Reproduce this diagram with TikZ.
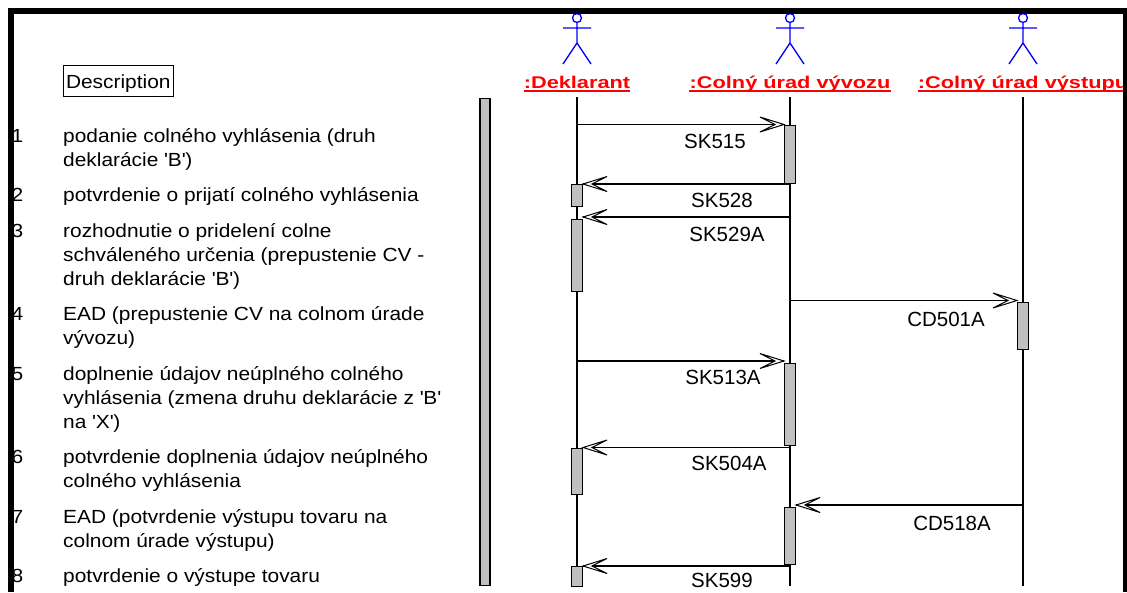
\documentclass[tikz,border=0pt]{standalone}
\usepackage{fontspec}
\setmainfont{Liberation Sans}[FakeStretch=1.1]
\newfontfamily\msgfont{Liberation Sans}
\newfontfamily\lblfont{Liberation Sans}[FakeStretch=1.28]
\definecolor{actgray}{RGB}{192,192,192}
\definecolor{actblue}{RGB}{0,0,255}
\definecolor{lblred}{RGB}{255,0,0}
\newcommand\qq{\textquotesingle}
% open chevron arrow head: #1 tip coordinate, #2 direction (1 = pointing right, -1 = pointing left)
\newcommand\msgtip[2]{%
  \draw[tipline] ([shift={(-24*#2,-7.5)}]#1) -- (#1) -- ([shift={(-24*#2,7.5)}]#1)
     -- ([shift={(-9*#2,0)}]#1) -- cycle;}
\begin{document}
\begin{tikzpicture}[x=1pt,y=-1pt,
  actor/.style={actblue, line width=1.3pt},
  lifeline/.style={line width=1.1pt},
  actbox/.style={draw, line width=1.1pt, fill=actgray, minimum width=11pt, inner sep=0pt, anchor=north},
  msg/.style={line width=1.1pt},
  tipline/.style={line width=1pt, line join=miter, fill=white},
  msglbl/.style={font=\msgfont\fontsize{20.5}{24}\selectfont, inner sep=0pt},
  desc/.style={font=\fontsize{19}{24}\selectfont, inner sep=0pt, anchor=base west},
  lbl/.style={font=\lblfont\bfseries\fontsize{17}{20}\selectfont, text=lblred, inner sep=0pt, anchor=base},
  uline/.style={lblred, line width=1.5pt},
]
\useasboundingbox (0,0) rectangle (1127,592);
\fill[white] (0,0) rectangle (1127,592);

% description box
\node[draw, line width=1pt, font=\fontsize{19}{24}\selectfont, text height=17pt, text depth=2pt,
      inner xsep=2.5pt, inner ysep=6pt, anchor=base west] (dsc) at (63,88) {Description};

% numbered description
\node[desc] (n1) at (11.5,142) {1};
\node[desc] (t1) at (63,142) {\vtop{\baselineskip=24pt\lineskiplimit=-30pt
  \hbox{podanie colného vyhlásenia (druh}\hbox{deklarácie \qq B\qq)}}};
\node[desc] (n2) at (11.5,201.5) {2};
\node[desc] (t2) at (63,201.5) {potvrdenie o prijatí colného vyhlásenia};
\node[desc] (n3) at (11.5,237) {3};
\node[desc] (t3) at (63,237) {\vtop{\baselineskip=24pt\lineskiplimit=-30pt
  \hbox{rozhodnutie o pridelení colne}\hbox{schváleného určenia (prepustenie CV -}\hbox{druh deklarácie \qq B\qq)}}};
\node[desc] (n4) at (11.5,320.5) {4};
\node[desc] (t4) at (63,320.5) {\vtop{\baselineskip=24pt\lineskiplimit=-30pt
  \hbox{EAD (prepustenie CV na colnom úrade}\hbox{vývozu)}}};
\node[desc] (n5) at (11.5,380) {5};
\node[desc] (t5) at (63,380) {\vtop{\baselineskip=24pt\lineskiplimit=-30pt
  \hbox{doplnenie údajov neúplného colného}\hbox{vyhlásenia (zmena druhu deklarácie z \qq B\qq}\hbox{na \qq X\qq)}}};
\node[desc] (n6) at (11.5,463.5) {6};
\node[desc] (t6) at (63,463.5) {\vtop{\baselineskip=24pt\lineskiplimit=-30pt
  \hbox{potvrdenie doplnenia údajov neúplného}\hbox{colného vyhlásenia}}};
\node[desc] (n7) at (11.5,523) {7};
\node[desc] (t7) at (63,523) {\vtop{\baselineskip=24pt\lineskiplimit=-30pt
  \hbox{EAD (potvrdenie výstupu tovaru na}\hbox{colnom úrade výstupu)}}};
\node[desc] (n8) at (11.5,582.5) {8};
\node[desc] (t8) at (63,582.5) {potvrdenie o výstupe tovaru};

% gray bar
\node[draw, line width=1.1pt, fill=actgray, minimum width=10pt, minimum height=487pt, inner sep=0pt, anchor=north] (gbar) at (485,97.5) {};

% actors
\foreach \x in {577,790,1023}{
  \draw[actor] (\x,18) circle[radius=4.5];
  \draw[actor] (\x,22.5) -- (\x,43) (\x-14,28) -- (\x+14,28) (\x-14,64) -- (\x,43) -- (\x+14,64);
}
\node[lbl] (ldk) at (577,88) {:Deklarant};
\node[lbl] (lvv) at (790,88) {:Colný úrad vývozu};
\node[lbl] (lvs) at (1023,88) {:Colný úrad výstupu};
\foreach \n in {ldk,lvv,lvs}{
  \draw[uline] ([yshift=-3pt]\n.base west) -- ([yshift=-3pt]\n.base east);
}

% lifelines
\coordinate (dk) at (577,97);  \coordinate (dkE) at (577,586);
\coordinate (vv) at (790,97);  \coordinate (vvE) at (790,586);
\coordinate (vs) at (1023,97); \coordinate (vsE) at (1023,586);
\draw[lifeline] (dk) -- (dkE);
\draw[lifeline] (vv) -- (vvE);
\draw[lifeline] (vs) -- (vsE);

% activations
\node[actbox, minimum height=58pt] (a1) at (790,124.5) {};
\node[actbox, minimum height=22pt] (b1) at (577,184) {};
\node[actbox, minimum height=72pt] (b2) at (577,218.5) {};
\node[actbox, minimum height=47pt] (c1) at (1023,302) {};
\node[actbox, minimum height=82pt] (a2) at (790,362.5) {};
\node[actbox, minimum height=46pt] (b3) at (577,447.5) {};
\node[actbox, minimum height=57pt] (a3) at (790,506.5) {};
\node[actbox, minimum height=20pt] (b4) at (577,566) {};

% message tips
\coordinate (p1) at (a1.north west);
\coordinate (p2) at (b1.north east);
\coordinate (p3) at ([yshift=1.5pt]b2.north east);
\coordinate (p4) at ([yshift=1.5pt]c1.north west);
\coordinate (p5) at ([yshift=1.5pt]a2.north west);
\coordinate (p6) at (b3.north east);
\coordinate (p7) at ([yshift=1.5pt]a3.north east);
\coordinate (p8) at (b4.north east);

% messages
\draw[msg] (p1 -| dk) -- (p1);  \msgtip{p1}{1}
\draw[msg] (p2 -| vv) -- (p2);  \msgtip{p2}{-1}
\draw[msg] (p3 -| vv) -- (p3);  \msgtip{p3}{-1}
\draw[msg] (p4 -| vv) -- (p4);  \msgtip{p4}{1}
\draw[msg] (p5 -| dk) -- (p5);  \msgtip{p5}{1}
\draw[msg] (p6 -| vv) -- (p6);  \msgtip{p6}{-1}
\draw[msg] (p7 -| vs) -- (p7);  \msgtip{p7}{-1}
\draw[msg] (p8 -| vv) -- (p8);  \msgtip{p8}{-1}

% message labels
\node[msglbl] (m1) at (715,141.5) {SK515};
\node[msglbl] (m2) at (722,200) {SK528};
\node[msglbl] (m3) at (727,234.5) {SK529A};
\node[msglbl] (m4) at (946,319) {CD501A};
\node[msglbl] (m5) at (723,377) {SK513A};
\node[msglbl] (m6) at (729,463) {SK504A};
\node[msglbl] (m7) at (952,523) {CD518A};
\node[msglbl] (m8) at (722,580) {SK599};

% frame
\fill (8,8) rectangle (1127,13.8);
\fill (8,8) rectangle (14,592);
\fill (1122.7,8) rectangle (1127,592);
\end{tikzpicture}
\end{document}
